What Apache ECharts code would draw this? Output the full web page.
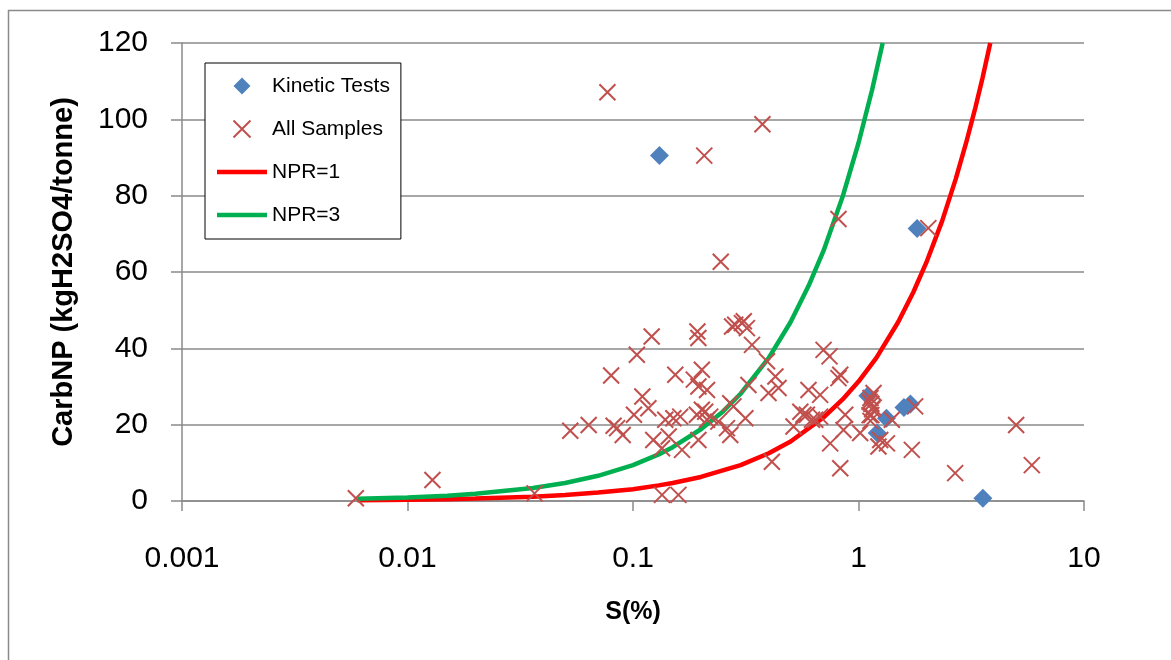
<!DOCTYPE html>
<html>
<head>
<meta charset="utf-8">
<script src="https://cdn.jsdelivr.net/npm/echarts@6/dist/echarts.min.js"></script>
<style>
  html, body { margin: 0; padding: 0; background: #ffffff; }
  #chart { width: 1171px; height: 660px; }
</style>
</head>
<body>
<div id="chart"></div>
<script>
// Kinetic test samples: S (%) and carbonate NP (kg H2SO4 / tonne)
const kineticS  = [0.131, 1.82, 1.10, 1.21, 1.33, 1.59, 1.70, 3.56];
const kineticNP = [90.5, 71.4, 27.6, 17.8, 21.7, 24.5, 25.4, 0.7];

// All samples
const sampleS = [
  0.0059, 0.0129, 0.0366, 0.0527, 0.0636, 0.077, 0.080, 0.082, 0.085, 0.090,
  0.101, 0.104, 0.110, 0.117, 0.121, 0.123, 0.1345, 0.1345, 0.139, 0.144,
  0.151, 0.154, 0.159, 0.162, 0.165, 0.186, 0.192, 0.193, 0.195, 0.195,
  0.195, 0.202, 0.202, 0.207, 0.209, 0.213, 0.213, 0.220, 0.239, 0.245,
  0.261, 0.270, 0.270, 0.275, 0.279, 0.284, 0.304, 0.310, 0.315, 0.320,
  0.325, 0.337, 0.375, 0.393, 0.399, 0.413, 0.428, 0.442, 0.515, 0.552,
  0.570, 0.590, 0.600, 0.622, 0.643, 0.676, 0.676, 0.700, 0.744, 0.749,
  0.815, 0.815, 0.830, 0.830, 0.858, 0.873, 1.017, 1.12, 1.12, 1.13,
  1.13, 1.14, 1.14, 1.15, 1.16, 1.166, 1.226, 1.248, 1.337, 1.405,
  1.724, 1.783, 2.04, 2.683, 5.00, 5.87
];
const sampleNP = [
  0.7, 5.5, 2.0, 18.4, 19.9, 107.1, 32.9, 19.7, 19.1, 17.3,
  22.6, 38.3, 27.4, 24.3, 43.1, 16.0, 13.8, 1.6, 21.3, 16.9,
  21.7, 33.1, 1.6, 22.1, 13.4, 31.8, 22.6, 44.4, 42.7, 30.0,
  16.0, 34.4, 23.9, 90.5, 23.4, 29.1, 21.3, 22.1, 20.8, 62.7,
  19.1, 17.3, 25.6, 45.7, 24.8, 46.2, 46.6, 47.1, 21.7, 45.3,
  30.4, 40.9, 98.7, 36.6, 28.3, 10.3, 32.6, 29.6, 19.5, 23.4,
  22.6, 22.6, 29.1, 21.3, 21.3, 27.8, 22.1, 39.6, 37.9, 15.1,
  73.9, 32.2, 33.1, 8.6, 18.6, 22.6, 17.8, 26.0, 22.5, 27.0,
  21.0, 25.5, 22.5, 24.0, 24.5, 28.3, 14.3, 16.0, 15.1, 21.3,
  13.4, 24.8, 71.5, 7.3, 19.9, 9.4
];

// NPR = 1 reference line
const npr1S  = [0.006, 0.01, 0.015, 0.02, 0.036, 0.05, 0.07, 0.1, 0.13, 0.15, 0.2, 0.3, 0.4, 0.5, 0.7, 0.85, 1.0, 1.2, 1.5, 1.75, 2.0, 2.35, 2.7, 3.0, 3.3, 3.55, 3.84];
const npr1NP = [0.19, 0.31, 0.47, 0.63, 1.1, 1.6, 2.2, 3.1, 4.1, 4.7, 6.3, 9.4, 12.5, 15.6, 21.9, 26.6, 31.3, 37.5, 46.9, 54.7, 62.5, 73.4, 84.4, 93.8, 103.1, 110.9, 120];

// NPR = 3 reference line
const npr3S  = [0.006, 0.01, 0.015, 0.02, 0.036, 0.05, 0.07, 0.1, 0.13, 0.15, 0.2, 0.25, 0.3, 0.4, 0.5, 0.6, 0.7, 0.85, 1.0, 1.15, 1.28];
const npr3NP = [0.56, 0.94, 1.4, 1.9, 3.4, 4.7, 6.6, 9.4, 12.2, 14.1, 18.8, 23.4, 28.1, 37.5, 46.9, 56.3, 65.6, 79.7, 93.8, 107.8, 120];

// Axis tick labels
const xTickLabels = ['0.001', '0.01', '0.1', '1', '10'];
const yTickLabels = ['0', '20', '40', '60', '80', '100', '120'];

const pair = (xs, ys) => xs.map((x, i) => [x, ys[i]]);

const gridGray = '#8a8a8a';
const font = '"Liberation Sans", Arial, sans-serif';
const crossPath = 'path://M0,0L10,10M10,0L0,10';
const diamondPath = 'path://M5,0L10,5L5,10L0,5Z';
const barPath = 'path://M0,0L50,0L50,4.5L0,4.5Z';

const chart = echarts.init(document.getElementById('chart'), null, { renderer: 'canvas' });

chart.setOption({
  backgroundColor: '#ffffff',
  animation: false,
  textStyle: { fontFamily: font },
  graphic: [{
    type: 'rect',
    shape: { x: 8.5, y: 10.5, width: 1200, height: 700 },
    style: { fill: 'none', stroke: gridGray, lineWidth: 1.5 },
    silent: true,
    z: -10
  }],
  grid: {
    left: 182, right: 87, top: 43, bottom: 159,
    containLabel: false,
    outerBoundsMode: 'none'
  },
  legend: {
    orient: 'vertical',
    left: 205, top: 63,
    padding: [12.5, 11, 13.5, 12],
    itemGap: 22,
    itemWidth: 50,
    itemHeight: 17,
    symbolKeepAspect: true,
    backgroundColor: '#ffffff',
    borderColor: '#000000',
    borderWidth: 1,
    borderRadius: 0,
    textStyle: { fontFamily: font, fontSize: 21, color: '#000000', lineHeight: 21 },
    data: [
      { name: 'Kinetic Tests', icon: diamondPath },
      { name: 'All Samples', icon: crossPath },
      { name: 'NPR=1', icon: barPath },
      { name: 'NPR=3', icon: barPath }
    ]
  },
  xAxis: {
    type: 'log',
    logBase: 10,
    min: 0.001,
    max: 10,
    interval: 1,
    name: 'S(%)',
    nameLocation: 'middle',
    nameGap: 99,
    nameTextStyle: { fontFamily: font, fontSize: 25, fontWeight: 'bold', color: '#000000' },
    axisLine: { show: true, onZero: false, lineStyle: { color: gridGray, width: 1.5 } },
    axisTick: { show: true, length: 10, lineStyle: { color: gridGray, width: 1.5 } },
    minorTick: { show: false },
    splitLine: { show: false },
    axisLabel: {
      fontFamily: font, fontSize: 30, color: '#000000', margin: 43,
      formatter: v => xTickLabels[Math.round(Math.log10(v)) + 3]
    }
  },
  yAxis: {
    type: 'value',
    min: 0,
    max: 120,
    interval: 20,
    name: 'CarbNP (kgH2SO4/tonne)',
    nameLocation: 'middle',
    nameGap: 104,
    nameTextStyle: { fontFamily: font, fontSize: 29, fontWeight: 'bold', color: '#000000' },
    axisLine: { show: true, lineStyle: { color: gridGray, width: 1.5 } },
    axisTick: { show: true, length: 11, lineStyle: { color: gridGray, width: 1.5 } },
    splitLine: { show: true, lineStyle: { color: gridGray, width: 1.5 } },
    axisLabel: {
      fontFamily: font, fontSize: 30, color: '#000000', margin: 34,
      lineHeight: 36,
      padding: [6, 0, 0, 0],
      formatter: v => yTickLabels[Math.round(v / 20)]
    }
  },
  series: [
    {
      name: 'Kinetic Tests',
      type: 'scatter',
      symbol: diamondPath,
      symbolSize: 19,
      itemStyle: { color: '#4F81BD', opacity: 1 },
      data: pair(kineticS, kineticNP),
      z: 3
    },
    {
      name: 'All Samples',
      type: 'scatter',
      symbol: crossPath,
      symbolSize: 16,
      itemStyle: { color: 'rgba(0,0,0,0)', borderColor: '#C0504D', borderWidth: 2, opacity: 1 },
      data: pair(sampleS, sampleNP),
      z: 4
    },
    {
      name: 'NPR=1',
      type: 'line',
      symbol: 'none',
      smooth: false,
      lineStyle: { color: '#FF0000', width: 4.5 },
      itemStyle: { color: '#FF0000' },
      data: pair(npr1S, npr1NP),
      z: 2
    },
    {
      name: 'NPR=3',
      type: 'line',
      symbol: 'none',
      smooth: false,
      lineStyle: { color: '#00B050', width: 4.5 },
      itemStyle: { color: '#00B050' },
      data: pair(npr3S, npr3NP),
      z: 2
    }
  ]
});
</script>
</body>
</html>
